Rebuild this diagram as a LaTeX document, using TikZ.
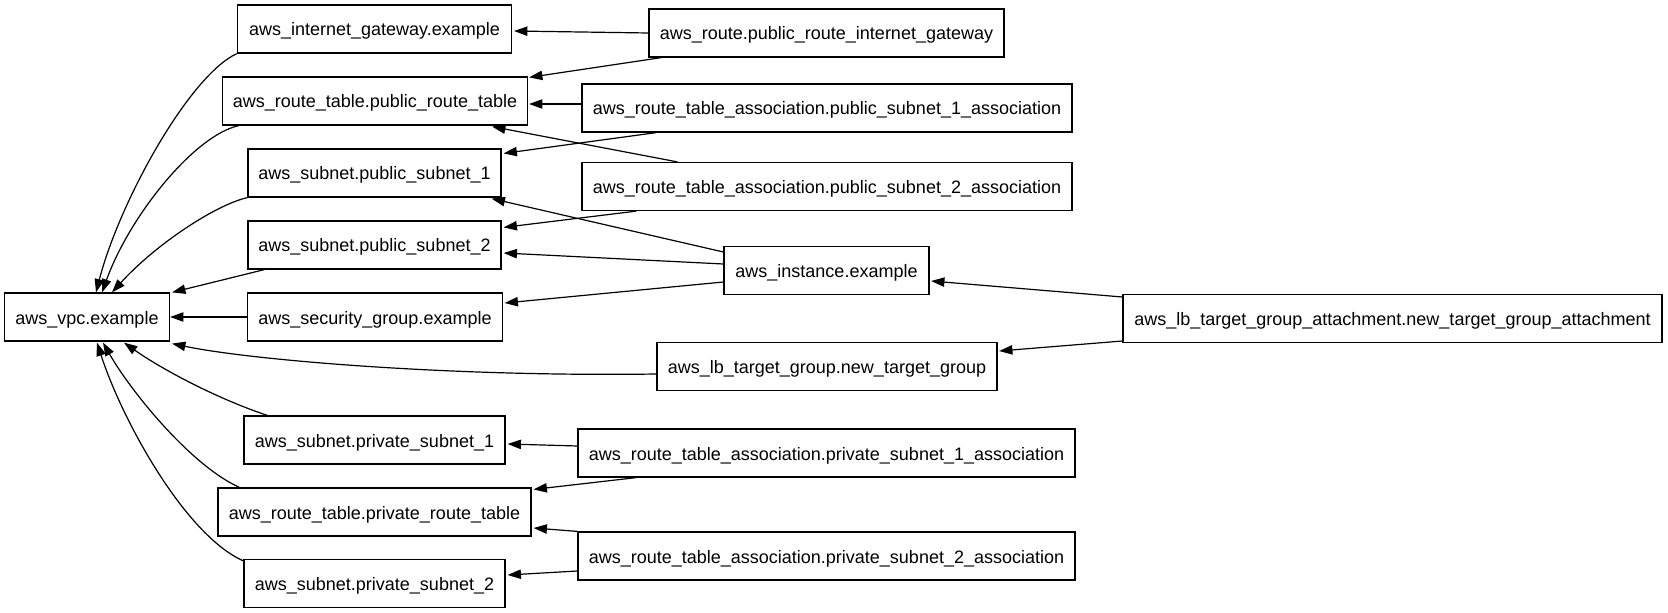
\documentclass[tikz,border=0pt]{standalone}
\usepackage{fontspec}
\setmainfont{Liberation Sans}
\usetikzlibrary{arrows.meta,calc}

\tikzset{
  nbox/.style={draw, rectangle, line width=0.9pt, inner sep=0pt,
    minimum height=36pt, minimum width=#1*0.75pt,
    text height=12pt, text depth=1.5pt,
    font=\fontsize{13.5}{16}\selectfont},
  edge/.style={line width=0.9pt, -{Triangle[length=10pt,width=7pt]}},
}

\begin{document}
\begin{tikzpicture}[x=0.75pt,y=-0.75pt]
\useasboundingbox (0,0) rectangle (1668,613);

% resources, one column per rank
\node[nbox=165] (vpc)   at (87,317)    {aws\_vpc.example};

\node[nbox=274] (igw)   at (374.5,29)  {aws\_internet\_gateway.example};
\node[nbox=305] (prt)   at (375,101)   {aws\_route\_table.public\_route\_table};
\node[nbox=253] (ps1)   at (374.5,173) {aws\_subnet.public\_subnet\_1};
\node[nbox=253] (ps2)   at (374.5,245) {aws\_subnet.public\_subnet\_2};
\node[nbox=255] (sg)    at (375,317)   {aws\_security\_group.example};
\node[nbox=261] (prs1)  at (374.5,440) {aws\_subnet.private\_subnet\_1};
\node[nbox=313] (prvrt) at (374.5,512) {aws\_route\_table.private\_route\_table};
\node[nbox=261] (prs2)  at (374.5,583.5) {aws\_subnet.private\_subnet\_2};

\node[nbox=355] (route) at (826.5,33)  {aws\_route.public\_route\_internet\_gateway};
\node[nbox=490] (rta1)  at (827,108)   {aws\_route\_table\_association.public\_subnet\_1\_association};
\node[nbox=490] (rta2)  at (827,186.5) {aws\_route\_table\_association.public\_subnet\_2\_association};
\node[nbox=205] (inst)  at (826.5,270.5) {aws\_instance.example};
\node[nbox=340] (tg)    at (827,366.5) {aws\_lb\_target\_group.new\_target\_group};
\node[nbox=497] (rtap1) at (826.5,453) {aws\_route\_table\_association.private\_subnet\_1\_association};
\node[nbox=497] (rtap2) at (826.5,556) {aws\_route\_table\_association.private\_subnet\_2\_association};

\node[nbox=539] (att)   at (1392.5,318.5) {aws\_lb\_target\_group\_attachment.new\_target\_group\_attachment};

% dependencies on the VPC
\draw[edge] (igw.south west) .. controls (190,75) and (120,200) .. ($(vpc.north)+(9,0)$);
\draw[edge] ($(prt.south west)+(17,0)$) .. controls (195,135) and (130,215) .. ($(vpc.north)+(15,0)$);
\draw[edge] (ps1.south west) .. controls (215,205) and (155,245) .. ($(vpc.north)+(25,0)$);
\draw[edge] ($(ps2.south west)+(17,0)$) -- ($(vpc.north east)+(2,0)$);
\draw[edge] (sg.west) -- (vpc.east);
\draw[edge] ($(tg.west)+(0,7.5)$) .. controls (450,377) and (250,360) .. ($(vpc.south east)+(2,2)$);
\draw[edge] ($(prs1.north west)+(24,0)$) .. controls (215,398) and (160,368) .. ($(vpc.south)+(37,1)$);
\draw[edge] ($(prvrt.north west)+(22,0)$) .. controls (190,465) and (130,390) .. ($(vpc.south)+(16,1)$);
\draw[edge] ($(prs2.north west)+(0,2)$) .. controls (185,535) and (122,420) .. ($(vpc.south)+(10,1)$);

% public routing
\draw[edge] (route.west) -- ($(igw.east)+(2,2)$);
\draw[edge] ($(route.south west)+(13,0)$) -- ($(prt.north east)+(1,1)$);
\draw[edge] ($(rta1.west)+(0,-4)$) -- ($(prt.east)+(1,3)$);
\draw[edge] ($(rta1.south west)+(75,0)$) -- ($(ps1.north east)+(2,5)$);
\draw[edge] ($(rta2.north west)+(96,0)$) -- ($(prt.south east)+(-36,1)$);
\draw[edge] ($(rta2.south west)+(55,0)$) -- ($(ps2.north east)+(2,7)$);

% instance
\draw[edge] ($(inst.west)+(0,-18.5)$) -- ($(ps1.south east)+(-10,1)$);
\draw[edge] ($(inst.west)+(0,-6.5)$) -- ($(ps2.east)+(2,8)$);
\draw[edge] ($(inst.west)+(0,11.5)$) -- ($(sg.east)+(1.5,-14)$);

% target group attachment
\draw[edge] ($(att.west)+(0,-21.5)$) -- ($(inst.east)+(1.5,10.5)$);
\draw[edge] ($(att.west)+(0,22.5)$) -- ($(tg.east)+(1.5,-15.5)$);

% private routing
\draw[edge] ($(rtap1.west)+(0,-7)$) -- ($(prs1.east)+(2,4)$);
\draw[edge] ($(rtap1.south west)+(59,0)$) -- ($(prvrt.north east)+(2,2)$);
\draw[edge] (rtap2.north west) -- ($(prvrt.east)+(2,16)$);
\draw[edge] ($(rtap2.west)+(0,15)$) -- ($(prs2.east)+(2,-8.5)$);
\end{tikzpicture}
\end{document}
